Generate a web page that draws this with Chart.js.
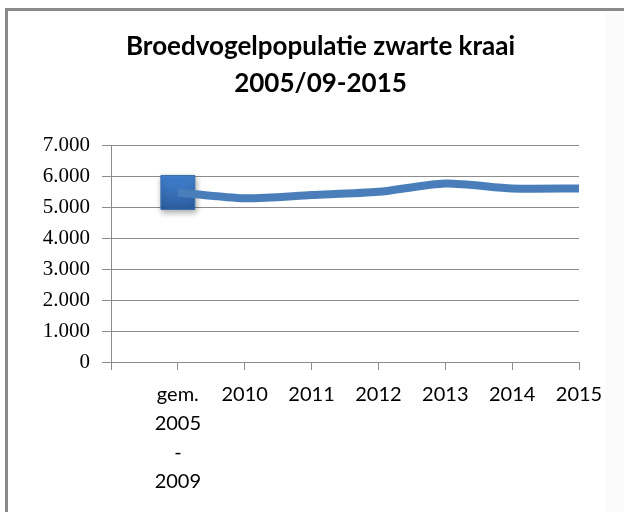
<!DOCTYPE html>
<html>
<head>
<meta charset="utf-8">
<script src="https://cdn.jsdelivr.net/npm/chart.js@4"></script>
<style>
  html, body { margin: 0; padding: 0; background: #ffffff; overflow: hidden; }
  body { width: 624px; height: 512px; position: relative; }
  #strip { position: absolute; left: 605px; top: 11px; width: 19px; height: 501px; background: #fbfbfb; }
  #frame { position: absolute; left: 5px; top: 8px; width: 700px; height: 600px;
           border-left: 3px solid #8a8a8a; border-top: 3px solid #8a8a8a; box-sizing: border-box; }
  #wrap { position: absolute; left: 0; top: 0; width: 604px; height: 512px; }
</style>
</head>
<body>
<div id="strip"></div>
<div id="frame"></div>
<div id="wrap"><canvas id="c" width="604" height="512"></canvas></div>
<script>
// ---- data ----
const titleLines = ['Broedvogelpopulatie zwarte kraai', '2005/09-2015'];
const categories = ['', ['gem.', '2005', '-', '2009'], '2010', '2011', '2012', '2013', '2014', '2015'];
const populatie = [null, 5470, 5280, 5385, 5490, 5760, 5600, 5600];
const markerValues = [null, 5470, null, null, null, null, null, null];
const yMin = 0, yMax = 7000, yStep = 1000;

const lineColor = '#4a7ebb';

const markerShadow = {
  id: 'markerShadow',
  beforeDatasetDraw(chart, args) {
    if (args.index === 1) {
      const c = chart.ctx;
      c.save();
      c.shadowColor = 'rgba(0,0,0,0.35)';
      c.shadowBlur = 6;
      c.shadowOffsetX = 1;
      c.shadowOffsetY = 3;
    }
  },
  afterDatasetDraw(chart, args) {
    if (args.index === 1) chart.ctx.restore();
  }
};

// shift the title block so it is centred like the original (over the whole frame)
const titleShift = {
  id: 'titleShift',
  afterLayout(chart) {
    if (chart.titleBlock) chart.titleBlock.left = 58;
  }
};

function markerFill(ctx) {
  const chart = ctx.chart;
  const v = ctx.raw;
  if (v == null || !chart.scales || !chart.scales.y) return '#3a70b8';
  const y = chart.scales.y.getPixelForValue(v);
  const g = chart.ctx.createLinearGradient(0, y - 17, 0, y + 17);
  g.addColorStop(0, '#4283d3');
  g.addColorStop(1, '#2c5c9c');
  return g;
}

new Chart(document.getElementById('c'), {
  type: 'line',
  data: {
    labels: categories,
    datasets: [
      {
        data: populatie,
        borderColor: lineColor,
        borderWidth: 8,
        tension: 0.25,
        pointRadius: 0,
        pointHoverRadius: 0,
        borderCapStyle: 'butt',
        borderJoinStyle: 'round',
        spanGaps: true
      },
      {
        data: markerValues,
        showLine: false,
        pointStyle: 'rect',
        pointRadius: 24,
        pointHoverRadius: 24,
        pointBorderWidth: 1,
        pointBorderColor: '#3a6fb0',
        pointBackgroundColor: markerFill
      }
    ]
  },
  options: {
    responsive: false,
    animation: false,
    events: [],
    layout: { padding: { left: 8, right: 21, top: 0, bottom: 0 } },
    plugins: {
      legend: { display: false },
      tooltip: { enabled: false },
      title: {
        display: true,
        text: titleLines,
        color: '#000000',
        font: { family: 'Lato', size: 26, weight: 'bold', lineHeight: '37px' },
        padding: { top: 28, bottom: 43 }
      }
    },
    scales: {
      x: {
        type: 'category',
        offset: false,
        afterFit(s) { s.height = 150; s.paddingLeft = 0; s.paddingRight = 0; },
        grid: { drawOnChartArea: false, drawTicks: true, tickLength: 8, color: '#8c8c8c', lineWidth: 1 },
        border: { display: true, color: '#8c8c8c', width: 1 },
        ticks: {
          autoSkip: false, maxRotation: 0, minRotation: 0,
          color: '#000000', padding: 10,
          font: { family: 'Lato', size: 20, lineHeight: '29px' }
        }
      },
      y: {
        min: yMin, max: yMax,
        afterFit(s) { s.width = 103; },
        grid: { color: '#8c8c8c', lineWidth: 1, tickLength: 9, drawTicks: true },
        border: { display: true, color: '#8c8c8c', width: 1 },
        ticks: {
          stepSize: yStep, color: '#000000', padding: 12,
          font: { family: 'Liberation Serif', size: 21 },
          callback: v => v.toLocaleString('nl-NL')
        }
      }
    }
  },
  plugins: [markerShadow, titleShift]
});
</script>
</body>
</html>
